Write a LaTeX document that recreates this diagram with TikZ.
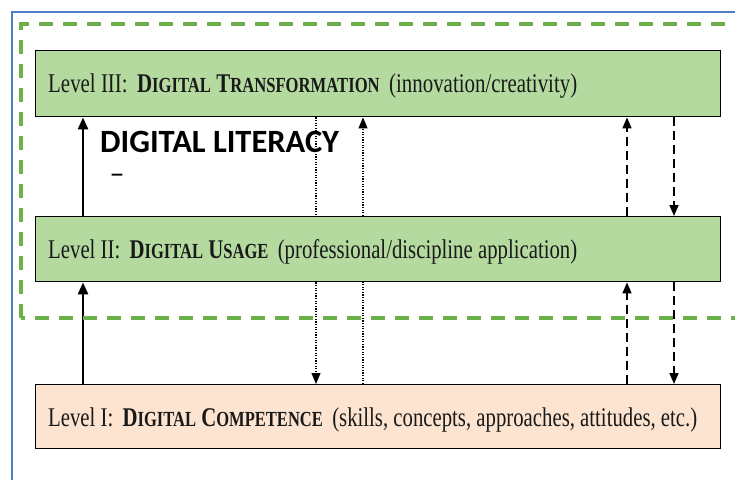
\documentclass[tikz,border=0pt]{standalone}
\usepackage{fontspec}
\usepackage{graphicx}
\setmainfont{Liberation Serif}
\newfontfamily\carlito{Carlito}
\usetikzlibrary{arrows.meta}
\definecolor{boxgreen}{RGB}{181,218,160}
\definecolor{peach}{RGB}{252,228,208}
\definecolor{dgreen}{RGB}{108,176,74}
\definecolor{frameblue}{RGB}{80,125,200}
\newcommand{\SCap}[2]{{\bfseries #1{\fontsize{21.5}{22}\selectfont #2}}}
\newcommand{\lvltext}[2]{\resizebox{#1}{\height}{\fontsize{27}{28}\selectfont #2}}
\tikzset{
  levelbox/.style={draw=black, line width=1.4pt, minimum width=685pt, inner sep=0pt, anchor=north west},
  lbl/.style={anchor=base west, inner sep=0pt, text=black!90},
  solidarrow/.style={line width=2.6pt, -{Triangle[length=12pt,width=10pt]}},
  dotline/.style={line width=1.1pt, dash pattern=on 1.2pt off 1.4pt},
  dotarrow/.style={dotline, -{Triangle[length=11pt,width=9pt]}},
  dashline/.style={line width=1.6pt, dash pattern=on 9pt off 5pt},
  dasharrow/.style={dashline, -{Triangle[length=11pt,width=9pt]}},
  greenframe/.style={draw=dgreen, line width=4pt, dash pattern=on 14pt off 10pt},
}
\begin{document}
\begin{tikzpicture}[x=1pt,y=-1pt]
\useasboundingbox (0,0) rectangle (735,479);
\fill[white] (0,0) rectangle (735,479);
% outer blue frame
\draw[frameblue, line width=1.5pt] (12,485) -- (12,12) -- (740,12);
% level boxes
\node[levelbox, fill=boxgreen, minimum height=66pt] (L3) at (35,50) {};
\node[levelbox, fill=boxgreen, minimum height=65pt] (L2) at (35,216) {};
\node[levelbox, fill=peach, minimum height=64pt] (L1) at (35,384) {};
% labels
\node[lbl] (t3) at (48,92) {\lvltext{529pt}{Level III:\hspace{0.45em}\SCap{D}{IGITAL} \SCap{T}{RANSFORMATION}\hspace{0.45em}(innovation/creativity)}};
\node[lbl] (t2) at (48,258) {\lvltext{529pt}{Level II:\hspace{0.45em}\SCap{D}{IGITAL} \SCap{U}{SAGE}\hspace{0.45em}(professional/discipline application)}};
\node[lbl] (t1) at (48,426) {\lvltext{649pt}{Level I:\hspace{0.45em}\SCap{D}{IGITAL} \SCap{C}{OMPETENCE}\hspace{0.45em}(skills, concepts, approaches, attitudes, etc.)}};
\node[anchor=base west, inner sep=0pt] (dl) at (100,152) {\carlito\bfseries\fontsize{32.5}{33}\selectfont DIGITAL LITERACY};
\node[inner sep=0pt] (dash) at (117,179) {\carlito\fontsize{30}{30}\selectfont –};
% connector columns
\coordinate (ca) at (83,0);
\coordinate (cb) at (316,0);
\coordinate (cc) at (363,0);
\coordinate (cd) at (627,0);
\coordinate (ce) at (674,0);
% solid arrows
\draw[solidarrow] (L2.north -| ca) -- (L3.south -| ca);
\draw[solidarrow] (L1.north -| ca) -- (L2.south -| ca);
% dotted lines
\draw[dotline] (L3.south -| cb) -- (L2.north -| cb);
\draw[dotarrow] (L2.south -| cb) -- (L1.north -| cb);
\draw[dotarrow] (L2.north -| cc) -- (L3.south -| cc);
\draw[dotline] (L1.north -| cc) -- (L2.south -| cc);
% dashed arrows
\draw[dasharrow] (L2.north -| cd) -- (L3.south -| cd);
\draw[dasharrow] (L1.north -| cd) -- (L2.south -| cd);
\draw[dasharrow] (L3.south -| ce) -- (L2.north -| ce);
\draw[dasharrow] (L2.south -| ce) -- (L1.north -| ce);
% green dashed frame
\draw[greenframe] (21,318) -- (21,24) -- (737,24) -- (737,318) -- cycle;
\end{tikzpicture}
\end{document}
